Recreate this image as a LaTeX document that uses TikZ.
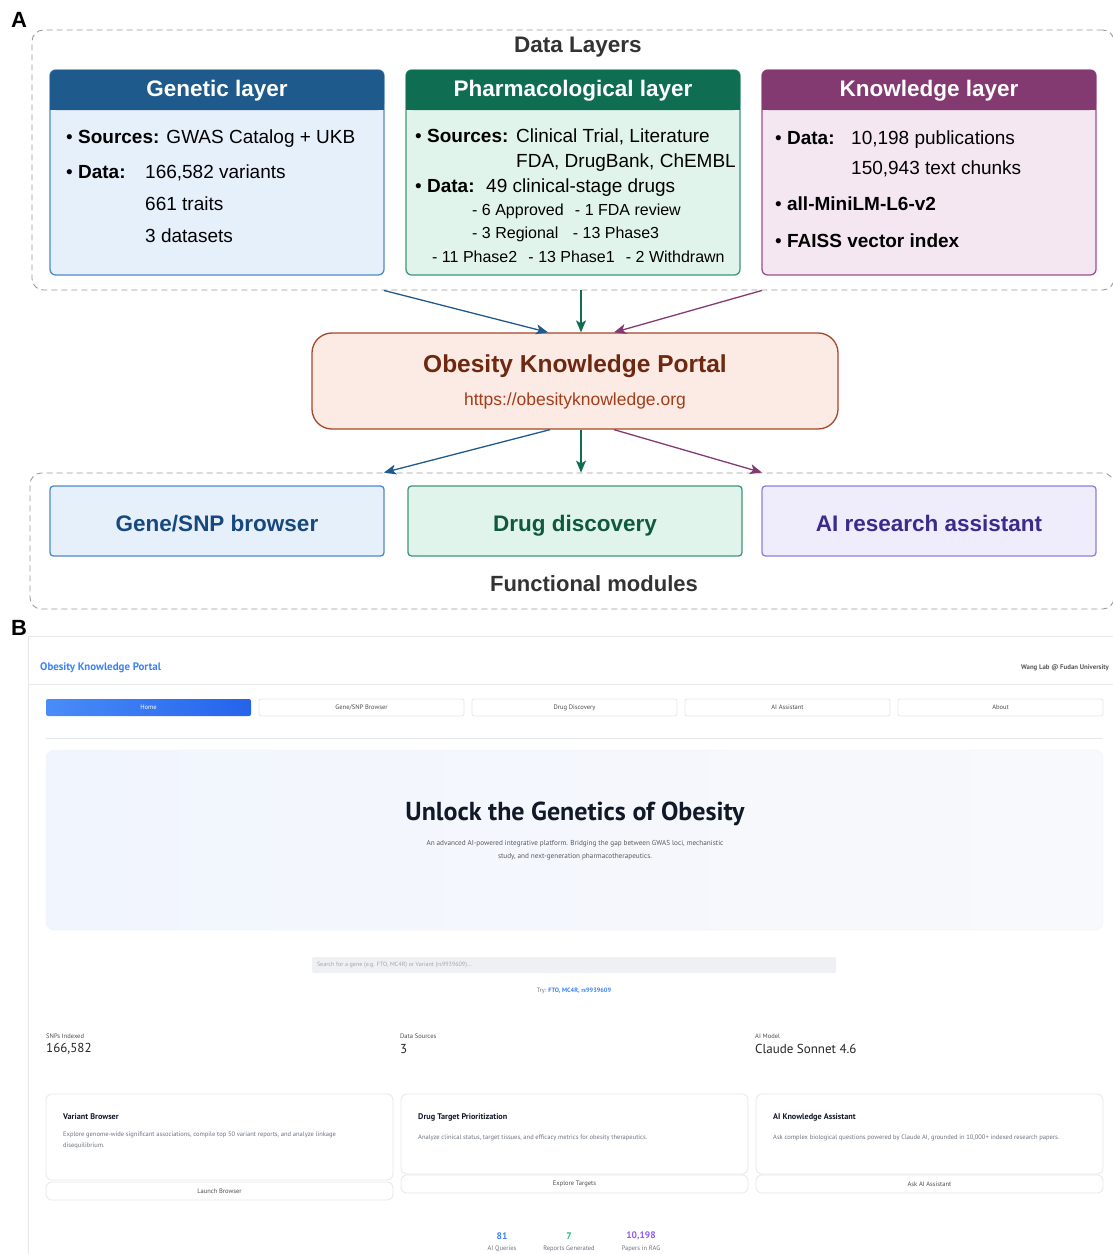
\documentclass[tikz,border=0pt]{standalone}
\usepackage{fontspec}
\setmainfont{Liberation Sans}
\newfontfamily\webfont{PT Sans}
\usetikzlibrary{arrows.meta,positioning}

\newcommand{\pxfont}[2]{\fontsize{#1}{#2}\selectfont}

\definecolor{genDark}{HTML}{1F5A8C}
\definecolor{genFill}{HTML}{E6F0FB}
\definecolor{genLine}{HTML}{4F88C6}
\definecolor{phDark}{HTML}{0F6E52}
\definecolor{phFill}{HTML}{E1F4EC}
\definecolor{phLine}{HTML}{3E9577}
\definecolor{knDark}{HTML}{833A70}
\definecolor{knFill}{HTML}{F4E7F2}
\definecolor{knLine}{HTML}{9B4F8B}
\definecolor{portFill}{HTML}{FBEBE4}
\definecolor{portLine}{HTML}{A4472A}
\definecolor{portText}{HTML}{6E2810}
\definecolor{portUrl}{HTML}{A33D1A}
\definecolor{aiFill}{HTML}{EFEDFB}
\definecolor{aiLine}{HTML}{8C7EE0}
\definecolor{aiText}{HTML}{3A2C8C}
\definecolor{geneText}{HTML}{17487E}
\definecolor{drugText}{HTML}{0F5A3E}
\definecolor{dashGray}{HTML}{9A9A9A}
\definecolor{webBlue}{HTML}{3B82F6}
\definecolor{homeL}{HTML}{4A8CF7}
\definecolor{homeR}{HTML}{2563EB}
\definecolor{webInk}{HTML}{111827}
\definecolor{webGray}{HTML}{6B7280}
\definecolor{webLine}{HTML}{E5E7EB}
\definecolor{heroL}{HTML}{F1F5FD}
\definecolor{heroR}{HTML}{F8F9FC}
\definecolor{searchFill}{HTML}{EEF0F4}
\definecolor{webGreen}{HTML}{22B573}
\definecolor{webPurple}{HTML}{8B5CF6}

\tikzset{
  groupbox/.style={shape=rectangle, draw=dashGray, dash pattern=on 6pt off 4pt, rounded corners=0.4cm, line width=0.9pt},
  layerbox/.style={shape=rectangle, rounded corners=0.2cm, line width=1.3pt, outer sep=0pt, minimum width=334pt, minimum height=205pt},
  hdrtext/.style={text=white, font=\pxfont{22.5}{27}\bfseries},
  bodytext/.style={anchor=west, inner sep=0pt, yshift=-2pt, text height=14pt, text depth=4pt, font=\pxfont{19}{23}},
  subtext/.style={anchor=west, inner sep=0pt, yshift=-1.5pt, text height=12pt, text depth=3.5pt, font=\pxfont{16}{19}},
  modbox/.style={shape=rectangle, rounded corners=0.12cm, line width=1.3pt, outer sep=0pt, minimum width=334pt, minimum height=70pt, text height=22pt, text depth=2pt, font=\pxfont{22.5}{27}\bfseries},
  flow/.style={-{Stealth[length=12pt,width=10pt,inset=3pt]}, line width=1.3pt},
  webtext/.style={inner sep=0pt, text=webGray, font=\webfont\pxfont{6.5}{8}},
  navbtn/.style={shape=rectangle, rounded corners=2pt, draw=webLine, fill=white, line width=0.8pt, outer sep=0pt, minimum width=205pt, minimum height=17pt, inner sep=0pt, text=black!70, font=\webfont\pxfont{6.5}{8}},
  webcard/.style={shape=rectangle, rounded corners=6pt, draw=webLine, fill=white, line width=0.8pt, outer sep=0pt, minimum width=347pt, inner sep=0pt},
}

\begin{document}
\begin{tikzpicture}[x=1pt, y=-1pt]
\useasboundingbox (0,0) rectangle (1113,1254);

\node (labA) at (19,20) [font=\pxfont{22}{26}\bfseries] {A};
\node (layers) at (573,160) [groupbox, minimum width=1082pt, minimum height=260pt] {};
\node (layersT) at (578,47.5) [text=black!80, font=\pxfont{22.5}{27}\bfseries] {Data Layers};

\node (gen) at (217,172.5) [layerbox, draw=genLine, fill=genFill] {};
\node (pharm) [right=22pt of gen, layerbox, draw=phLine, fill=phFill] {};
\node (know) [right=22pt of pharm, layerbox, draw=knLine, fill=knFill] {};
\foreach \b/\c/\t in {gen/genDark/Genetic layer, pharm/phDark/Pharmacological layer, know/knDark/Knowledge layer} {
  \fill[\c, rounded corners=0.2cm] (\b.north west) rectangle ([yshift=-40pt]\b.north east);
  \fill[\c] ([yshift=-20pt]\b.north west) rectangle ([yshift=-40pt]\b.north east);
  \node (\b-title) at ([yshift=-21pt]\b.north) [hdrtext] {\t};
}

\node (gen1) at (66,136) [bodytext] {• \textbf{Sources:} GWAS Catalog + UKB};
\node (gen2) at (66,171) [bodytext] {• \textbf{Data:}};
\node (gen2v) at (145,171) [bodytext] {166,582 variants};
\node (gen3) at (145,203) [bodytext] {661 traits};
\node (gen4) at (145,235) [bodytext] {3 datasets};

\node (pharm1) at (415,135) [bodytext] {• \textbf{Sources:}};
\node (pharm1v) at (516,135) [bodytext] {Clinical Trial, Literature};
\node (pharm2) at (516,160) [bodytext] {FDA, DrugBank, ChEMBL};
\node (pharm3) at (415,185) [bodytext] {• \textbf{Data:}};
\node (pharm3v) at (486,185) [bodytext] {49 clinical-stage drugs};
\node (pharm4) at (472,210) [subtext] {- 6 Approved\hspace{0.7em}- 1 FDA review};
\node (pharm5) at (472,233) [subtext] {- 3 Regional\hspace{0.9em}- 13 Phase3};
\node (pharm6) at (432,257) [subtext] {- 11 Phase2\hspace{0.7em}- 13 Phase1\hspace{0.7em}- 2 Withdrawn};

\node (know1) at (775,137) [bodytext] {• \textbf{Data:}};
\node (know1v) at (851,137) [bodytext] {10,198 publications};
\node (know2) at (851,167) [bodytext] {150,943 text chunks};
\node (know3) at (775,203) [bodytext] {• \textbf{all-MiniLM-L6-v2}};
\node (know4) at (775,240) [bodytext] {• \textbf{FAISS vector index}};

\node (portal) at (575,381) [shape=rectangle, rounded corners=0.7cm, draw=portLine, fill=portFill, line width=1.3pt, minimum width=526pt, minimum height=96pt] {};
\node (portalT) at (575,366) [text=portText, font=\pxfont{24.5}{29}\bfseries] {Obesity Knowledge Portal};
\node (portalU) at (575,401) [text=portUrl, font=\pxfont{17.5}{21}] {https://obesityknowledge.org};

\draw[flow, genDark] (layers.south -| gen.east) -- ([xshift=-27pt]portal.north);
\draw[flow, phDark] ([xshift=6pt]portal.north |- layers.south) -- ([xshift=6pt]portal.north);
\draw[flow, knDark] (layers.south -| know.west) -- ([xshift=39pt]portal.north);

\node (modules) at (572,541) [groupbox, minimum width=1084pt, minimum height=136pt] {};
\node (geneM) at (217,521) [modbox, draw=genLine, fill=genFill, text=geneText] {Gene/SNP browser};
\node (drugM) [right=24pt of geneM, modbox, draw=phLine, fill=phFill, text=drugText] {Drug discovery};
\node (aiM) [right=20pt of drugM, modbox, draw=aiLine, fill=aiFill, text=aiText] {AI research assistant};
\node (modulesT) at (594,584) [text=black!80, font=\pxfont{22}{26}\bfseries] {Functional modules};

\draw[flow, genDark] ([xshift=-25pt]portal.south) -- (modules.north -| geneM.east);
\draw[flow, phDark] ([xshift=6pt]portal.south) -- ([xshift=6pt]portal.south |- modules.north);
\draw[flow, knDark] ([xshift=39pt]portal.south) -- (modules.north -| aiM.west);

\node (labB) at (19,628) [font=\pxfont{22}{26}\bfseries] {B};
\draw[webLine, line width=0.8pt] (28,1254) -- (28,636) -- (1113,636);
\draw[webLine, line width=0.8pt] (28,684) -- (1113,684);
\node (webBrand) at (40,668) [anchor=west, inner sep=0pt, text=webBlue, font=\webfont\pxfont{10.9}{12}\bfseries] {Obesity Knowledge Portal};
\node (webLab) at (1109,668) [anchor=east, inner sep=0pt, text=black!65, font=\webfont\pxfont{6.8}{8}\bfseries] {Wang Lab @ Fudan University};

\node (navHome) at (148.5,707.5) [navbtn, draw=none, left color=homeL, right color=homeR, text=white] {Home};
\node (navGene) [right=8pt of navHome, navbtn] {Gene/SNP Browser};
\node (navDrug) [right=8pt of navGene, navbtn] {Drug Discovery};
\node (navAI) [right=8pt of navDrug, navbtn] {AI Assistant};
\node (navAbout) [right=8pt of navAI, navbtn] {About};
\draw[webLine, line width=1pt] (46,738) -- (1103,738);

\node (hero) at (574.5,840) [shape=rectangle, rounded corners=8pt, draw=webLine!60, left color=heroL, right color=heroR, minimum width=1057pt, minimum height=180pt] {};
\node (heroT) at (575,814) [text=webInk, font=\webfont\pxfont{26}{31}\bfseries] {Unlock the Genetics of Obesity};
\node (heroS) at (575,850) [align=center, inner sep=0pt, text=black!65, font=\webfont\pxfont{7.2}{13}] {An advanced AI-powered integrative platform. Bridging the gap between GWAS loci, mechanistic\\study, and next-generation pharmacotherapeutics.};

\node (search) at (574,965) [shape=rectangle, rounded corners=2pt, fill=searchFill, minimum width=524pt, minimum height=16pt] {};
\node (searchP) at ([xshift=5pt]search.west) [anchor=west, inner sep=0pt, text=black!35, font=\webfont\pxfont{6.1}{7}] {Search for a gene (e.g. FTO, MC4R) or Variant (rs9939609)...};
\node (try) at (574,991) [webtext, font=\webfont\pxfont{6.3}{8}] {Try: \textcolor{webBlue}{\bfseries FTO, MC4R, rs9939609}};

\node (statL1) at (46,1036) [anchor=west, webtext, text=black!70] {SNPs Indexed};
\node (statV1) at (46,1049) [anchor=west, inner sep=0pt, text=black!85, font=\webfont\pxfont{13}{15}] {166,582};
\node (statL2) at (400,1036) [anchor=west, webtext, text=black!70] {Data Sources};
\node (statV2) at (400,1049) [anchor=west, inner sep=0pt, text=black!85, font=\webfont\pxfont{13}{15}] {3};
\node (statL3) at (755,1036) [anchor=west, webtext, text=black!70] {AI Model};
\node (statV3) at (755,1049) [anchor=west, inner sep=0pt, text=black!85, font=\webfont\pxfont{13}{15}] {Claude Sonnet 4.6};

\node (card1) at (219.5,1137) [webcard, minimum height=86pt] {};
\node (card2) at (574.5,1134) [webcard, minimum height=80pt] {};
\node (card3) at (929.5,1134) [webcard, minimum height=80pt] {};
\node (btn1) [below=2pt of card1, webcard, minimum height=18pt, text=black!70, font=\webfont\pxfont{6.5}{8}] {Launch Browser};
\node (btn2) [below=1pt of card2, webcard, minimum height=18pt, text=black!70, font=\webfont\pxfont{6.5}{8}] {Explore Targets};
\node (btn3) [below=1pt of card3, webcard, minimum height=18pt, text=black!70, font=\webfont\pxfont{6.5}{8}] {Ask AI Assistant};

\node (card1T) at (63,1117) [anchor=west, inner sep=0pt, text=webInk, font=\webfont\pxfont{8.2}{9}\bfseries] {Variant Browser};
\node (card1D) at (63,1140.5) [anchor=west, align=left, webtext, font=\webfont\pxfont{6.5}{11}] {Explore genome-wide significant associations, compile top 50 variant reports, and analyze linkage\\disequilibrium.};
\node (card2T) at (418,1117) [anchor=west, inner sep=0pt, text=webInk, font=\webfont\pxfont{8.2}{9}\bfseries] {Drug Target Prioritization};
\node (card2D) at (418,1138) [anchor=west, webtext] {Analyze clinical status, target tissues, and efficacy metrics for obesity therapeutics.};
\node (card3T) at (773,1117) [anchor=west, inner sep=0pt, text=webInk, font=\webfont\pxfont{8.2}{9}\bfseries] {AI Knowledge Assistant};
\node (card3D) at (773,1138) [anchor=west, webtext] {Ask complex biological questions powered by Claude AI, grounded in 10,000+ indexed research papers.};

\node (cntQ) at (502,1236) [inner sep=0pt, text=webBlue, font=\webfont\pxfont{9.5}{11}\bfseries] {81};
\node (cntQL) at (502,1249) [webtext] {AI Queries};
\node (cntR) at (569,1236) [inner sep=0pt, text=webGreen, font=\webfont\pxfont{9.5}{11}\bfseries] {7};
\node (cntRL) at (569,1249) [webtext] {Reports Generated};
\node (cntP) at (641,1236) [inner sep=0pt, text=webPurple, font=\webfont\pxfont{9.5}{11}\bfseries] {10,198};
\node (cntPL) at (641,1249) [webtext] {Papers in RAG};
\end{tikzpicture}
\end{document}
